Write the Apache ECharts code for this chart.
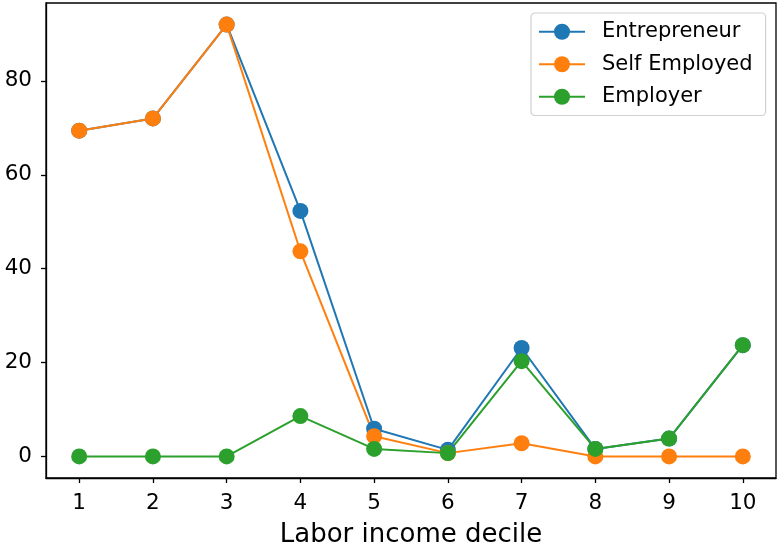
<!DOCTYPE html>
<html>
<head>
<meta charset="utf-8">
<script src="https://cdn.jsdelivr.net/npm/echarts@6/dist/echarts.min.js"></script>
<style>
  html, body { margin: 0; padding: 0; background: #fff; }
  #chart { width: 779px; height: 546px; }
</style>
</head>
<body>
<div id="chart"></div>
<script>
// Share of each group by labor income decile
const deciles = [1, 2, 3, 4, 5, 6, 7, 8, 9, 10];
const entrepreneur = [69.4, 72.0, 92.0, 52.3, 5.9, 1.4, 23.1, 1.6, 3.8, 23.7];
const selfEmployed = [69.4, 72.0, 92.0, 43.7, 4.3, 0.7, 2.8, 0.0, 0.0, 0.0];
const employer = [0.0, 0.0, 0.0, 8.6, 1.6, 0.7, 20.3, 1.6, 3.8, 23.7];
const yTicks = [0, 20, 40, 60, 80];
const seriesNames = ['Entrepreneur', 'Self Employed', 'Employer'];
const colors = ['#1f77b4', '#ff7f0e', '#2ca02c'];

const FONT = 'DejaVu Sans';
const chart = echarts.init(document.getElementById('chart'), null, { renderer: 'canvas' });

function pairs(values) {
  return deciles.map((d, i) => [d, values[i]]);
}

const allValues = [...entrepreneur, ...selfEmployed, ...employer];
const yMaxData = Math.max(...allValues);
const yMinData = Math.min(...allValues);
const yPad = (yMaxData - yMinData) * 0.05;
const xPad = (deciles[deciles.length - 1] - deciles[0]) * 0.05;

const lineSeries = [entrepreneur, selfEmployed, employer].map((vals, i) => ({
  name: seriesNames[i],
  type: 'line',
  data: pairs(vals),
  symbol: 'circle',
  symbolSize: 16,
  showAllSymbol: true,
  color: colors[i],
  lineStyle: { width: 2, color: colors[i] },
  itemStyle: { color: colors[i] },
  emphasis: { disabled: true },
  animation: false
}));

chart.setOption({
  animation: false,
  backgroundColor: '#fff',
  grid: {
    left: 46, right: 3, top: 3, bottom: 68,
    containLabel: false,
    outerBoundsMode: 'none',
    show: true, borderColor: '#000', borderWidth: 1.3, backgroundColor: 'transparent'
  },
  legend: {
    orient: 'vertical',
    left: 531, top: 13,
    padding: [7, 13, 7, 7],
    itemWidth: 46, itemHeight: 20,
    itemGap: 9,
    backgroundColor: 'rgba(255,255,255,0.8)',
    borderColor: '#d0d0d0', borderWidth: 1.2, borderRadius: 4,
    textStyle: { fontFamily: FONT, fontSize: 21, color: '#000', lineHeight: 23.5, padding: [0, 0, 0, 12] },
    data: seriesNames
  },
  xAxis: {
    type: 'value',
    min: deciles[0] - xPad,
    max: deciles[deciles.length - 1] + xPad,
    name: 'Labor income decile',
    nameLocation: 'middle',
    nameGap: 44,
    nameTextStyle: { fontFamily: FONT, fontSize: 26, color: '#000' },
    axisLine: { show: true, onZero: false, lineStyle: { color: '#000', width: 1.3 } },
    axisTick: { show: true, length: 5, lineStyle: { color: '#000', width: 1.3 }, customValues: deciles },
    axisLabel: { fontFamily: FONT, fontSize: 21.5, color: '#000', margin: 14, customValues: deciles },
    splitLine: { show: false }
  },
  yAxis: {
    type: 'value',
    min: yMinData - yPad,
    max: yMaxData + yPad,
    axisLine: { show: true, onZero: false, lineStyle: { color: '#000', width: 1.3 } },
    axisTick: { show: true, length: 5, lineStyle: { color: '#000', width: 1.3 }, customValues: yTicks },
    axisLabel: { fontFamily: FONT, fontSize: 21.5, color: '#000', margin: 14, customValues: yTicks },
    splitLine: { show: false }
  },
  series: lineSeries
});
</script>
</body>
</html>
